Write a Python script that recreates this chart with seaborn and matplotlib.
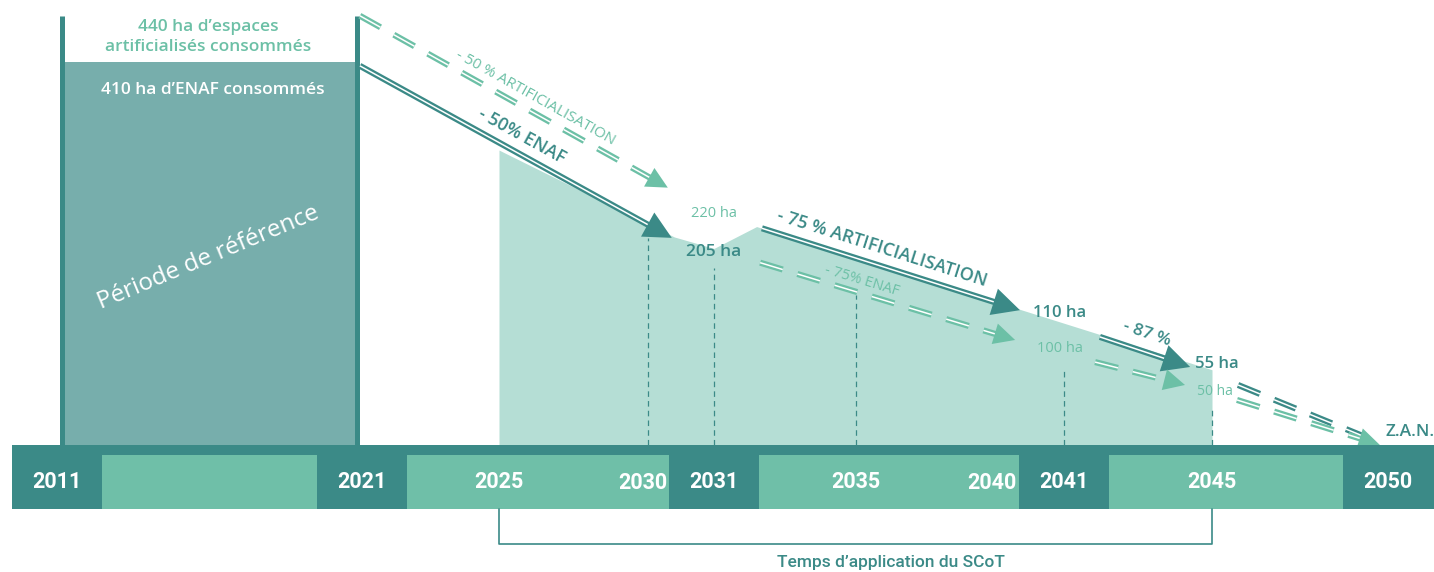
import numpy as np
import matplotlib
matplotlib.use("Agg")
import matplotlib.pyplot as plt
import seaborn as sns

# ---------------- data ----------------
ref_years = [2011, 2021]                 # reference period
scot_years = [2025, 2045]                # SCoT application period
milestones = [2011, 2021, 2031, 2041, 2050]
mid_years = [2025, 2035, 2045]
end_years = [2030, 2040]
guide_years = [2030, 2031, 2035, 2041, 2045]

artif_ref = 440                          # ha, artificialised 2011-2021
enaf_ref = 410                           # ha, ENAF 2011-2021
dark_targets = [205, 110, 55]            # ha, solid arrows
light_targets = [220, 100, 50]           # ha, dashed arrows
dark_labels = ["- 50% ENAF", "- 75 % ARTIFICIALISATION", "- 87 %"]
light_labels = ["- 50 % ARTIFICIALISATION", "- 75% ENAF"]

# outline of the SCoT area (year, ha)
scot_x = [2025, 2030.4, 2031, 2032.2, 2045]
scot_y = [297, 193, 180, 205, 55]

# ---------------- layout ----------------
DARK = "#3b8a87"
BOX = "#77aeac"
LIGHT = "#6cc0a6"
MINT = "#b5ded5"
TL_LIGHT = "#6fbfa8"

# the timeline is not linear: year -> pixel anchors
AX_YEARS = [1900, 2009.13, 2011, 2021, 2025, 2030, 2031, 2035, 2041, 2045, 2050, 2051.31, 2200]
AX_PX = [-3330, 0, 57, 362, 499, 648, 714, 856, 1064, 1212, 1388, 1434, 6670]


def fx(x):
    return np.interp(x, AX_YEARS, AX_PX)


def ix(p):
    return np.interp(p, AX_PX, AX_YEARS)


def fy(v):
    v = np.asarray(v, dtype=float)
    return np.sign(v) * np.abs(v) ** 0.81


def iy(v):
    v = np.asarray(v, dtype=float)
    return np.sign(v) * np.abs(v) ** (1 / 0.81)


guide_tops = [192, 158, 129, 57, 24]
frame_top = 472
HALF = 45  # px, half width of the dark year boxes

# arrows: start, end (year, ha)
arrows = [
    ((2020.93, 472), (2030.30, 251), LIGHT, True),
    ((2020.93, 405), (2030.36, 192), DARK, False),
    ((2032.35, 203), (2039.73, 113), DARK, False),
    ((2032.30, 164), (2039.59, 83), LIGHT, True),
    ((2041.97, 86), (2044.41, 57.5), DARK, False),
    ((2041.84, 62), (2044.27, 41.6), LIGHT, True),
]

sns.set_theme(style="white")
plt.rcParams["font.family"] = ["Open Sans", "DejaVu Sans"]
plt.rcParams["lines.scale_dashes"] = False

fig = plt.figure(figsize=(14.34, 5.72), dpi=100)
ax = fig.add_axes([0, 127 / 572, 1, 445 / 572])
axb = fig.add_axes([0, 0, 1, 127 / 572])
for a in (ax, axb):
    a.set_xscale("function", functions=(fx, ix))
    a.set_xlim(2009.13, 2051.31)
    a.axis("off")
ax.set_yscale("function", functions=(fy, iy))
ax.set_ylim(0, 493.5)
axb.set_ylim(127, 0)

# ---- reference box ----
x_l = ix(fx(ref_years[0]) + 5)
x_r = ix(fx(ref_years[1]) - 5)
ax.fill_between([ix(fx(ref_years[0]) + 7), ix(fx(ref_years[1]) - 7)], 0, enaf_ref,
                color=BOX, lw=0, zorder=1)
for xv in (x_l, x_r):
    ax.plot([xv, xv], [0, frame_top], color=DARK, lw=3.6, solid_capstyle="butt", zorder=2)

ax.text(2015.95, 457, f"{artif_ref} ha d’espaces", color=LIGHT, fontsize=12.5,
        fontweight="semibold", ha="center", va="center")
ax.text(2015.95, 430, "artificialisés consommés", color=LIGHT, fontsize=12.5,
        fontweight="semibold", ha="center", va="center")
ax.text(2016.1, 374, f"{enaf_ref} ha d’ENAF consommés", color="white", fontsize=12.5,
        fontweight="semibold", ha="center", va="center", zorder=3)
ax.text(2015.95, 169, "Période de référence", color="white", fontsize=17.5,
        fontweight="normal", ha="center", va="center", rotation=22.6,
        rotation_mode="anchor", zorder=3)

# ---- SCoT area ----
ax.fill_between(scot_x, 0, scot_y, color=MINT, lw=0, zorder=1)
for g, t in zip(guide_years, guide_tops):
    ax.plot([g, g], [0, t], color=DARK, lw=0.9, linestyle=(0, (4, 3)), zorder=2)


# ---- arrows ----
def pull_back(p0, p1, dist):
    a, b = ax.transData.transform([p0, p1])
    d = b - a
    b2 = b - d / np.hypot(*d) * dist
    return tuple(ax.transData.inverted().transform(b2))


def shaft(p0, p1, color, dashed, back=10):
    p1 = pull_back(p0, p1, back)
    xs, ys = [p0[0], p1[0]], [p0[1], p1[1]]
    ls = (0, (17, 11)) if dashed else "-"
    sns.lineplot(x=xs, y=ys, ax=ax, color=color, lw=4.4, linestyle=ls,
                 sort=False, estimator=None, zorder=4, solid_capstyle="butt")
    ax.plot(xs, ys, color="white", lw=1.1, linestyle=ls, zorder=5,
            solid_capstyle="butt")


def head(p0, p1, color, size):
    ax.annotate("", xy=p1, xytext=p0, zorder=6,
                arrowprops=dict(arrowstyle="-|>,head_length=0.9,head_width=0.45",
                                mutation_scale=size, lw=0, color=color,
                                shrinkA=0, shrinkB=0))


def angle(p0, p1):
    (x0, y0), (x1, y1) = ax.transData.transform([p0, p1])
    return np.degrees(np.arctan2(y1 - y0, x1 - x0))


for p0, p1, c, dashed in arrows:
    shaft(p0, p1, c, dashed)
    head(p0, p1, c, 17 if dashed else 22)

# towards Z.A.N.
zan_dark = ((2045.74, 41.6), (2049.35, 3.5))
zan_light = ((2045.71, 29.2), (2049.35, 1.9))
shaft(*zan_dark, DARK, True, back=0)
shaft(*zan_light, LIGHT, True, back=0)
head(zan_light[0], (2049.77, 0.0), LIGHT, 17)

# rotated labels on the arrows
rot_labels = [
    (light_labels[0], (2026.23, 363), arrows[0], LIGHT, 11, "normal"),
    (dark_labels[0], (2025.76, 315), arrows[1], DARK, 13, "semibold"),
    (dark_labels[1], (2035.75, 180), arrows[2], DARK, 13, "semibold"),
    (light_labels[1], (2035.17, 144), arrows[3], LIGHT, 10.5, "normal"),
    (dark_labels[2], (2043.24, 89), arrows[4], DARK, 12.5, "semibold"),
]
for txt, pos, arr, c, fs, fw in rot_labels:
    ax.text(pos[0], pos[1], txt, color=c, fontsize=fs, fontweight=fw, ha="center",
            va="center", rotation=angle(arr[0], arr[1]), rotation_mode="anchor", zorder=7)

# values
val_labels = [
    (f"{light_targets[0]} ha", (2031, 220), LIGHT, 10.5, "medium"),
    (f"{dark_targets[0]} ha", (2031, 176), DARK, 12.5, "semibold"),
    (f"{dark_targets[1]} ha", (2040.88, 110), DARK, 12, "semibold"),
    (f"{light_targets[1]} ha", (2040.88, 75), LIGHT, 10.5, "medium"),
    (f"{dark_targets[2]} ha", (2045.14, 60), DARK, 12, "semibold"),
    (f"{light_targets[2]} ha", (2045.09, 36.5), LIGHT, 10, "medium"),
]
for txt, pos, c, fs, fw in val_labels:
    ax.text(pos[0], pos[1], txt, color=c, fontsize=fs, fontweight=fw,
            ha="center", va="center", zorder=7)
ax.text(2049.94, 6.3, "Z.A.N.", color=DARK, fontsize=12.5, fontweight="semibold",
        ha="left", va="center", zorder=7)

# ---- timeline ----
axb.fill_between([ix(fx(milestones[0]) - HALF), 2051.31], 0, 64, color=DARK, lw=0)
for a, b in zip(milestones[:-1], milestones[1:]):
    axb.fill_between([ix(fx(a) + HALF), ix(fx(b) - HALF)], 10, 64, color=TL_LIGHT, lw=0)

year_font = ["Roboto", "DejaVu Sans"]
for y in milestones + mid_years:
    axb.text(y, 37, str(y), color="white", fontsize=15.5, fontweight="bold",
             family=year_font, ha="center", va="center")
for y in end_years:
    axb.text(ix(fx(y + 1) - HALF - 2), 38, str(y), color="white", fontsize=15.5,
             fontweight="bold", family=year_font, ha="right", va="center")

# SCoT bracket
axb.plot([scot_years[0], scot_years[0], scot_years[1], scot_years[1]], [64, 99, 99, 64],
         color=DARK, lw=1.2)
axb.text(2036.0, 118, "Temps d’application du SCoT", color=DARK, fontsize=12.5,
         fontweight="medium", family=year_font, ha="center", va="center")

fig.savefig("out.png", dpi=100)
